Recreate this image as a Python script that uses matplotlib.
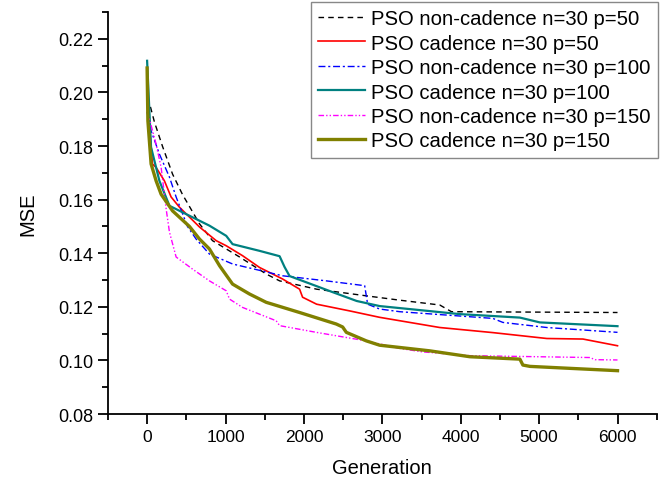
import matplotlib.pyplot as plt
from matplotlib.ticker import MultipleLocator

plt.rcParams['font.family'] = ['Liberation Sans', 'DejaVu Sans']

# values
black_x = [0, 30, 93, 195, 325, 450, 668, 834, 1180, 1523, 1690, 2162, 2800, 3222, 3733, 3882, 6000]
black_y = [0.198, 0.196, 0.189, 0.180, 0.1695, 0.162, 0.151, 0.1447, 0.1386, 0.1322, 0.1297, 0.1266, 0.1241, 0.1225, 0.1207, 0.1182, 0.1179]

red_x = [0, 68, 115, 221, 306, 412, 668, 881, 1009, 1217, 1434, 1728, 1945, 1983, 2162, 2583, 2966, 3733, 4410, 5099, 5559, 6000]
red_y = [0.199, 0.1733, 0.172, 0.167, 0.161, 0.1572, 0.1498, 0.1447, 0.1428, 0.1391, 0.1347, 0.1304, 0.1266, 0.1236, 0.121, 0.1185, 0.1161, 0.1123, 0.1104, 0.1082, 0.108, 0.1055]

blue_x = [0, 51, 157, 285, 370, 515, 625, 795, 1090, 1728, 2286, 2775, 2813, 2966, 3222, 4410, 4538, 5099, 6000]
blue_y = [0.1927, 0.1857, 0.177, 0.1684, 0.161, 0.150, 0.1453, 0.1397, 0.136, 0.1316, 0.1297, 0.1279, 0.121, 0.1192, 0.1182, 0.1157, 0.1142, 0.1123, 0.1105]

teal_x = [0, 50, 157, 285, 498, 795, 1009, 1090, 1434, 1690, 1753, 1817, 2366, 2673, 2966, 3988, 4755, 5010, 6000]
teal_y = [0.2118, 0.1796, 0.167, 0.1577, 0.1546, 0.1503, 0.1465, 0.1434, 0.1409, 0.1389, 0.1349, 0.1315, 0.1255, 0.1222, 0.1203, 0.1173, 0.116, 0.1142, 0.1128]

magenta_x = [0, 30, 115, 179, 221, 243, 285, 370, 579, 795, 1009, 1051, 1217, 1647, 1690, 2158, 2797, 3222, 3516, 3861, 4117, 5649, 5713, 6000]
magenta_y = [0.193, 0.190, 0.1807, 0.172, 0.162, 0.1565, 0.1479, 0.1386, 0.1341, 0.1297, 0.126, 0.1229, 0.1198, 0.1148, 0.113, 0.1105, 0.1073, 0.1045, 0.1032, 0.1024, 0.1018, 0.1011, 0.1003, 0.1002]

olive_x = [0, 10, 51, 115, 179, 325, 540, 668, 795, 925, 1090, 1306, 1519, 1945, 2413, 2494, 2541, 2797, 2966, 3605, 4117, 4755, 4793, 4883, 6000]
olive_y = [0.2091, 0.1894, 0.1733, 0.167, 0.162, 0.1558, 0.150, 0.1453, 0.1416, 0.1353, 0.1285, 0.1248, 0.1217, 0.1179, 0.1136, 0.1125, 0.1105, 0.1073, 0.1057, 0.1036, 0.1014, 0.1005, 0.0983, 0.0978, 0.0962]

fig = plt.figure(figsize=(6.62, 4.81), dpi=100)
ax = fig.add_axes([0.163, 0.137, 0.829, 0.836])

ax.plot(black_x, black_y, color='black', lw=1.0, ls=(0, (4, 3)), label='PSO non-cadence n=30 p=50')
ax.plot(red_x, red_y, color='red', lw=1.2, label='PSO cadence n=30 p=50')
ax.plot(blue_x, blue_y, color='blue', lw=1.0, ls=(0, (5, 2, 1.5, 2)), label='PSO non-cadence n=30 p=100')
ax.plot(teal_x, teal_y, color='#008080', lw=1.6, label='PSO cadence n=30 p=100')
ax.plot(magenta_x, magenta_y, color='magenta', lw=1.0, ls=(0, (4, 1.5, 1, 1.5, 1, 1.5)), label='PSO non-cadence n=30 p=150')
ax.plot(olive_x, olive_y, color='#808000', lw=2.4, label='PSO cadence n=30 p=150')

ax.set_xlim(-500, 6500)
ax.set_ylim(0.08, 0.23)
ax.xaxis.set_major_locator(MultipleLocator(1000))
ax.xaxis.set_minor_locator(MultipleLocator(500))
ax.yaxis.set_major_locator(MultipleLocator(0.02))
ax.yaxis.set_minor_locator(MultipleLocator(0.01))
ax.set_xticks(range(0, 7000, 1000))
ax.set_yticks([0.08, 0.10, 0.12, 0.14, 0.16, 0.18, 0.20, 0.22])
ax.set_yticklabels(['0.08', '0.10', '0.12', '0.14', '0.16', '0.18', '0.20', '0.22'])

for s in ['top', 'right']:
    ax.spines[s].set_visible(False)
for s in ['left', 'bottom']:
    ax.spines[s].set_linewidth(1.3)
ax.tick_params(which='major', direction='out', length=7, width=1.3)
ax.tick_params(which='minor', direction='out', length=4, width=1.3)
ax.tick_params(axis='x', labelsize=12.5)
ax.tick_params(axis='y', labelsize=13)

ax.set_xlabel('Generation', fontsize=14.5, labelpad=10)
ax.set_ylabel('MSE', fontsize=14.5, labelpad=15)

leg = ax.legend(loc='upper right', bbox_to_anchor=(658 / 662, 1 - 3 / 481), bbox_transform=fig.transFigure,
                borderaxespad=0, fontsize=14.6, fancybox=False, handlelength=2.35, handletextpad=0.3,
                labelspacing=0.27, borderpad=0.35, framealpha=1)
leg.get_frame().set_edgecolor('#888888')
leg.get_frame().set_linewidth(1.0)

fig.savefig('out.png', dpi=100)
